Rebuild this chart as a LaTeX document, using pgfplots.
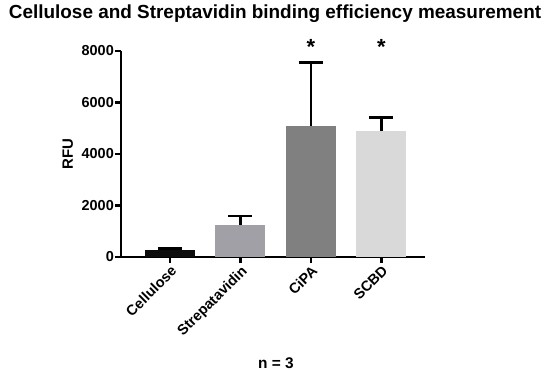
\documentclass[border=0pt]{standalone}
\usepackage{pgfplots}
\pgfplotsset{compat=1.18}
\usepackage{fontspec}
\setmainfont{Liberation Sans}
\definecolor{cCel}{HTML}{0D0D0D}
\definecolor{cStr}{HTML}{A0A0A6}
\definecolor{cCip}{HTML}{808080}
\definecolor{cScb}{HTML}{D9D9D9}
\begin{document}
\begin{tikzpicture}
\path[use as bounding box] (0,0) rectangle (550bp,370bp);
\node[font=\bfseries\fontsize{19}{22}\selectfont, anchor=base, inner sep=0pt] at (275bp,351bp) {Cellulose and Streptavidin binding efficiency measurement};
\node[font=\bfseries\fontsize{15.5}{18}\selectfont, anchor=base, inner sep=0pt] at (276bp,2bp) {n = 3};
\begin{axis}[
  at={(121bp,113bp)}, anchor=south west,
  scale only axis, width=304bp, height=206bp,
  xmin=-0.695, xmax=3.62, ymin=0, ymax=8000,
  axis x line*=bottom, axis y line*=left,
  axis line style={line width=2.5bp, black},
  clip=false,
  xtick={0,1,2,3},
  xticklabels={Cellulose,Strepatavidin,CiPA,SCBD},
  ytick={0,2000,4000,6000,8000},
  tick align=outside,
  major tick length=6bp,
  tick style={line width=2.5bp, black},
  /pgf/number format/assume math mode=true,
  /pgf/number format/1000 sep={},
  tick label style={font=\bfseries\fontsize{14.5}{17}\selectfont},
  y tick label style={inner sep=1bp},
  x tick label style={rotate=45, anchor=north east, inner sep=1bp},
  ylabel={RFU},
  ylabel style={font=\bfseries\fontsize{15}{17}\selectfont, at={(axis description cs:-0.175,0.5)}, anchor=center},
  every axis plot/.append style={ybar, bar width=50bp, bar shift=0pt, draw=none,
    error bars/y dir=plus, error bars/y explicit,
    error bars/error bar style={line width=2.5bp, black},
    error bars/error mark options={rotate=90, mark size=12bp, line width=2.5bp, black}},
]
\addplot[fill=cCel] coordinates {(0,280) +- (0,50)};
\addplot[fill=cStr] coordinates {(1,1250) +- (0,350)};
\addplot[fill=cCip] coordinates {(2,5080) +- (0,2470)};
\addplot[fill=cScb] coordinates {(3,4890) +- (0,530)};
\node[font=\bfseries\fontsize{22}{24}\selectfont] at (axis cs:2,8150) {*};
\node[font=\bfseries\fontsize{22}{24}\selectfont] at (axis cs:3,8150) {*};
\end{axis}
\end{tikzpicture}
\end{document}
